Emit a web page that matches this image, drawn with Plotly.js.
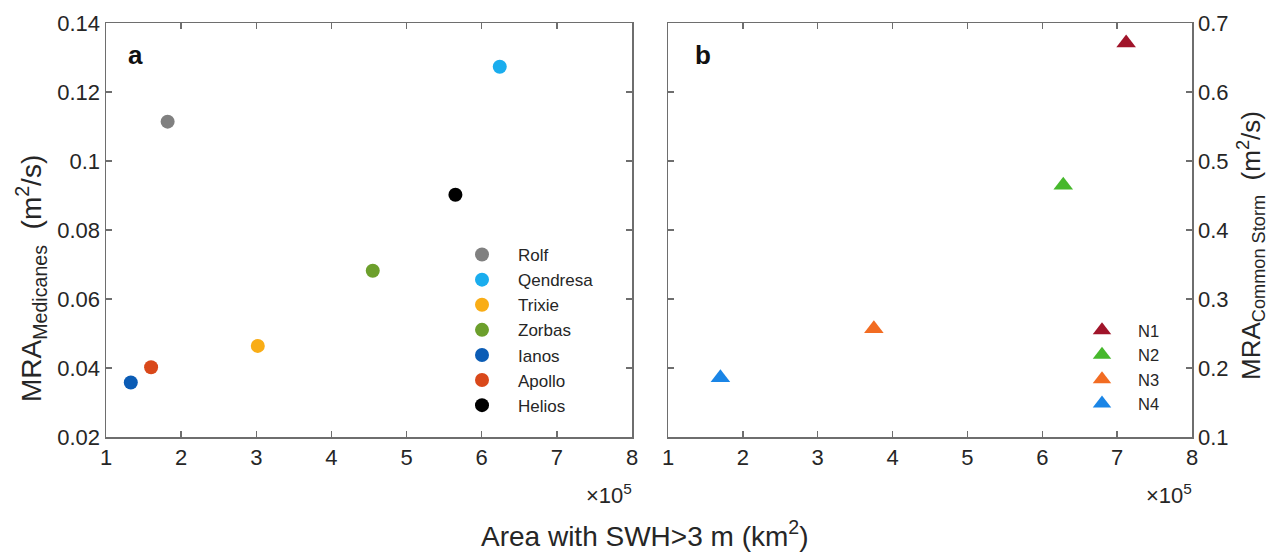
<!DOCTYPE html>
<html>
<head>
<meta charset="utf-8">
<script src="https://cdn.plot.ly/plotly-3.0.1.min.js"></script>
<style>html,body{margin:0;padding:0;background:#fff;}#chart{width:1273px;height:553px;}</style>
</head>
<body>
<div id="chart"></div>
<script>
// Panel a: Medicanes (area in units of 10^5 km^2, MRA in m^2/s)
const medicaneNames = ["Rolf", "Qendresa", "Trixie", "Zorbas", "Ianos", "Apollo", "Helios"];
const medicaneArea = [1.82, 6.24, 3.02, 4.55, 1.33, 1.60, 5.65];
const medicaneMRA = [0.1114, 0.1273, 0.0464, 0.0682, 0.0358, 0.0402, 0.0902];
const medicaneColors = ["#808080", "#1aadee", "#f9ad16", "#6c9f2c", "#0b5cb5", "#d9481a", "#000000"];

// Panel b: common storms
const stormNames = ["N1", "N2", "N3", "N4"];
const stormArea = [7.12, 6.28, 3.75, 1.70];
const stormMRA = [0.671, 0.465, 0.257, 0.186];
const stormColors = ["#a0142a", "#46b82c", "#f26c22", "#1a85e6"];

const xTicks = [1, 2, 3, 4, 5, 6, 7, 8];
const yTicksA = [0.02, 0.04, 0.06, 0.08, 0.1, 0.12, 0.14];
const yTicksB = [0.1, 0.2, 0.3, 0.4, 0.5, 0.6, 0.7];

const W = 1273, H = 553;
const FONT = "Arial, 'Liberation Sans', Helvetica, sans-serif";
const AX = "#6e6e6e";
const TXT = "#262626";

const traces = [];
medicaneNames.forEach((n, i) => {
  traces.push({
    type: "scatter", mode: "markers", name: n,
    x: [medicaneArea[i]], y: [medicaneMRA[i]],
    xaxis: "x", yaxis: "y", legend: "legend",
    marker: {symbol: "circle", size: 14, color: medicaneColors[i]}
  });
});
stormNames.forEach((n, i) => {
  traces.push({
    type: "scatter", mode: "markers", name: n,
    x: [stormArea[i]], y: [stormMRA[i]],
    xaxis: "x2", yaxis: "y2", legend: "legend2",
    marker: {symbol: "triangle-up", size: 17, color: stormColors[i]}
  });
});

const axCommon = {
  showline: true, mirror: "ticks", linecolor: AX, linewidth: 1.5,
  ticks: "inside", ticklen: 6, tickwidth: 1.5, tickcolor: AX,
  showgrid: false, zeroline: false, fixedrange: true,
  tickfont: {family: FONT, size: 22, color: TXT}
};
const yDom = [(H - 437) / H, (H - 23) / H];
const py = v => (H - v) / H;

const layout = {
  width: W, height: H,
  margin: {l: 0, r: 0, t: 0, b: 0},
  paper_bgcolor: "#ffffff", plot_bgcolor: "#ffffff",
  font: {family: FONT, color: TXT},
  showlegend: true,
  xaxis: Object.assign({}, axCommon, {
    domain: [106 / W, 632 / W], range: [1, 8], anchor: "y",
    tickvals: xTicks, ticktext: xTicks.map(String)
  }),
  yaxis: Object.assign({}, axCommon, {
    domain: yDom, range: [0.02, 0.14], anchor: "x",
    tickvals: yTicksA, ticktext: yTicksA.map(String)
  }),
  xaxis2: Object.assign({}, axCommon, {
    domain: [668 / W, 1192 / W], range: [1, 8], anchor: "y2",
    tickvals: xTicks, ticktext: xTicks.map(String)
  }),
  yaxis2: Object.assign({}, axCommon, {
    domain: yDom, range: [0.1, 0.7], anchor: "x2", side: "right",
    tickvals: yTicksB, ticktext: yTicksB.map(String)
  }),
  legend: {
    x: 446 / W, y: py(237), xanchor: "left", yanchor: "top",
    bgcolor: "rgba(255,255,255,0)", borderwidth: 0,
    font: {family: FONT, size: 17, color: TXT}, itemwidth: 62
  },
  legend2: {
    x: 1066 / W, y: py(313), xanchor: "left", yanchor: "top",
    bgcolor: "rgba(255,255,255,0)", borderwidth: 0,
    font: {family: FONT, size: 16.5, color: TXT}, itemwidth: 62
  },
  annotations: [
    {text: "<b>a</b>", xref: "paper", yref: "paper", x: 135 / W, y: py(55), showarrow: false, xanchor: "center", yanchor: "middle", font: {family: FONT, size: 26, color: "#111"}},
    {text: "<b>b</b>", xref: "paper", yref: "paper", x: 703 / W, y: py(55), showarrow: false, xanchor: "center", yanchor: "middle", font: {family: FONT, size: 26, color: "#111"}},
    {text: "×10<sup>5</sup>", xref: "paper", yref: "paper", x: 634 / W, y: py(494), showarrow: false, xanchor: "right", yanchor: "middle", font: {family: FONT, size: 22, color: TXT}},
    {text: "×10<sup>5</sup>", xref: "paper", yref: "paper", x: 1194 / W, y: py(494), showarrow: false, xanchor: "right", yanchor: "middle", font: {family: FONT, size: 22, color: TXT}},
    {text: "Area with SWH>3 m (km<sup>2</sup>)", xref: "paper", yref: "paper", x: 645 / W, y: py(534), showarrow: false, xanchor: "center", yanchor: "middle", font: {family: FONT, size: 28, color: TXT}},
    {text: "MRA<sub>Medicanes</sub>  (m<sup>2</sup>/s)", xref: "paper", yref: "paper", x: 31 / W, y: py(279), showarrow: false, textangle: -90, xanchor: "center", yanchor: "middle", font: {family: FONT, size: 28, color: TXT}},
    {text: "MRA<sub>Common Storm</sub>  (m<sup>2</sup>/s)", xref: "paper", yref: "paper", x: 1251 / W, y: py(246), showarrow: false, textangle: -90, xanchor: "center", yanchor: "middle", font: {family: FONT, size: 26, color: TXT}}
  ]
};

Plotly.newPlot("chart", traces, layout, {displayModeBar: false, staticPlot: true});
</script>
</body>
</html>
